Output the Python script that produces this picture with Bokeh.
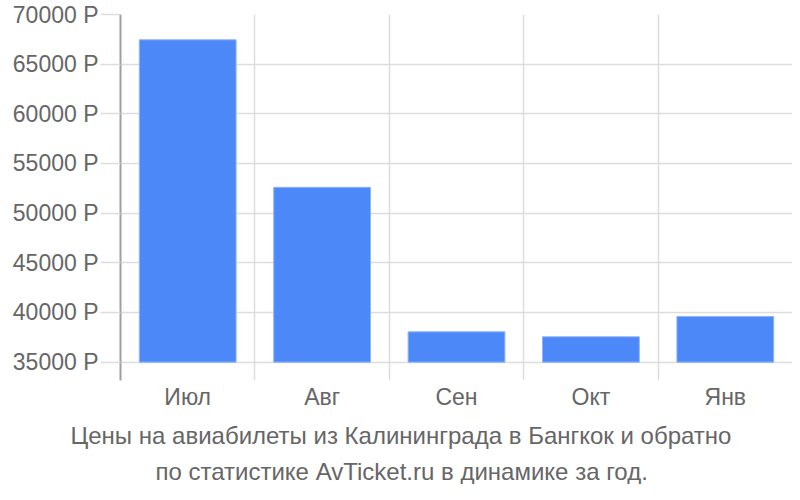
from bokeh.plotting import figure
from bokeh.models import Range1d, FixedTicker, PrintfTickFormatter, Title
from bokeh.embed import file_html
from bokeh.resources import INLINE

months = ["Июл", "Авг", "Сен", "Окт", "Янв"]
prices = [67450, 52600, 38050, 37550, 39600]
y_ticks = [35000, 40000, 45000, 50000, 55000, 60000, 65000, 70000]
title_lines = ["Цены на авиабилеты из Калининграда в Бангкок и обратно",
               "по статистике AvTicket.ru в динамике за год."]
baseline = 35000

x_centers = [i + 0.5 for i in range(len(months))]
x_bounds = list(range(len(months) + 1))

TEXT = "#666666"
GRID = "#dddddd"
FONT = "Liberation Sans"

p = figure(width=792, height=484, output_backend="svg", toolbar_location=None,
           x_range=Range1d(0, len(months)), y_range=Range1d(33150, 70000),
           min_border_left=120, min_border_right=0, min_border_top=14,
           min_border_bottom=103)
p.outline_line_color = None

p.vbar(x=x_centers, top=prices, bottom=baseline, width=0.72,
       fill_color="#4d88f9", line_color="#8db3fb", line_width=1)

# y axis
p.yaxis.ticker = FixedTicker(ticks=y_ticks)
p.yaxis.formatter = PrintfTickFormatter(format="%d Р")
p.yaxis.axis_line_color = "#a0a0a0"
p.yaxis.axis_line_width = 2
p.yaxis.major_tick_line_color = GRID
p.yaxis.major_tick_line_width = 1.5
p.yaxis.major_tick_out = 20
p.yaxis.major_tick_in = 0
p.yaxis.minor_tick_line_color = None
p.yaxis.major_label_standoff = 2
p.yaxis.major_label_text_font = FONT
p.yaxis.major_label_text_font_size = "23px"
p.yaxis.major_label_text_color = TEXT
p.ygrid.ticker = FixedTicker(ticks=y_ticks)
p.ygrid.grid_line_color = GRID
p.ygrid.grid_line_width = 1.5

# x axis
p.xaxis.ticker = FixedTicker(ticks=x_centers)
p.xaxis.major_label_overrides = {c: m for c, m in zip(x_centers, months)}
p.xaxis.axis_line_color = None
p.xaxis.major_tick_line_color = None
p.xaxis.minor_tick_line_color = None
p.xaxis.major_label_standoff = -3
p.xaxis.major_label_text_font = FONT
p.xaxis.major_label_text_font_size = "23px"
p.xaxis.major_label_text_color = TEXT
p.xgrid.ticker = FixedTicker(ticks=x_bounds)
p.xgrid.grid_line_color = GRID
p.xgrid.grid_line_width = 1.5

title_offsets = [-50, 35]
title_standoffs = [14, 0]
for line, off, so in zip(title_lines, title_offsets, title_standoffs):
    p.add_layout(Title(text=line, align="left", offset=off, text_font=FONT,
                       text_font_size="24px", text_font_style="normal",
                       text_line_height=0.8,
                       text_color=TEXT, standoff=so), "below")

open("out.html", "w").write(file_html(p, INLINE))
